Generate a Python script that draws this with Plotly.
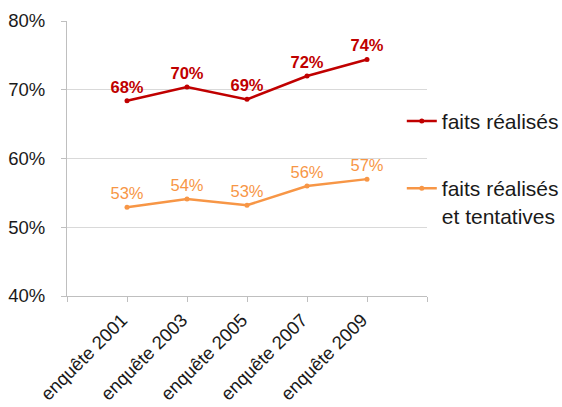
import plotly.graph_objects as go

categories = ["enquête 2001", "enquête 2003", "enquête 2005", "enquête 2007", "enquête 2009"]
faits_realises = [0.684, 0.704, 0.686, 0.720, 0.744]
faits_tentatives = [0.529, 0.541, 0.532, 0.560, 0.570]
y_ticks = [0.40, 0.50, 0.60, 0.70, 0.80]
y_tick_labels = ["40%", "50%", "60%", "70%", "80%"]

x_pos = list(range(1, len(categories) + 1))
x_tickvals = [0] + x_pos + [len(categories) + 1]
x_ticktext = [""] + categories + [""]

RED = "#C00000"
ORANGE = "#F79646"
FONT = "Liberation Sans, Arial, sans-serif"

fig = go.Figure()
fig.add_trace(go.Scatter(
    x=x_pos, y=faits_realises, name="faits réalisés", legendgroup="a",
    mode="lines+markers+text",
    line=dict(color=RED, width=2.5), marker=dict(color=RED, size=5),
    text=[f"{round(v*100)}%" for v in faits_realises], textposition="top center",
    textfont=dict(color=RED, size=16.5, family=FONT, weight="bold"),
))
fig.add_trace(go.Scatter(
    x=x_pos, y=faits_tentatives, name="faits réalisés<br>et tentatives", legendgroup="b",
    mode="lines+markers+text",
    line=dict(color=ORANGE, width=2.5), marker=dict(color=ORANGE, size=5),
    text=[f"{round(v*100)}%" for v in faits_tentatives], textposition="top center",
    textfont=dict(color=ORANGE, size=16.5, family=FONT),
))

fig.update_layout(
    width=562, height=407,
    margin=dict(l=67, r=135, t=21, b=111, autoexpand=False),
    paper_bgcolor="white", plot_bgcolor="white",
    font=dict(family=FONT, color="#262626"),
    showlegend=True,
    legend=dict(
        x=0.93, xanchor="left", y=0.71, yanchor="top",
        font=dict(size=21, color="#1a1a1a", family=FONT),
        itemwidth=30, tracegroupgap=37, valign="top",
        bgcolor="rgba(0,0,0,0)",
    ),
    xaxis=dict(
        range=[0, len(categories) + 1], tickvals=x_tickvals, ticktext=x_ticktext,
        tickangle=-45, tickfont=dict(size=18.5, color="#1a1a1a"), automargin=False,
        ticklabelshift=-5,
        showgrid=False, zeroline=False, showline=True, linecolor="#BFBFBF", linewidth=1,
        ticks="outside", ticklen=5, tickcolor="#BFBFBF",
    ),
    yaxis=dict(
        range=[0.40, 0.80], tickvals=y_ticks, ticktext=y_tick_labels,
        tickfont=dict(size=18.5, color="#1a1a1a"), automargin=False,
        showgrid=True, gridcolor="#D9D9D9", gridwidth=1, zeroline=False,
        showline=True, linecolor="#BFBFBF", linewidth=1,
        ticks="outside", ticklen=5, tickcolor="#BFBFBF", ticklabelstandoff=12,
    ),
)

fig.write_html(
    "out.html",
    config={"displayModeBar": False},
    post_script="document.body.style.margin='0';document.body.style.overflow='hidden';",
)
